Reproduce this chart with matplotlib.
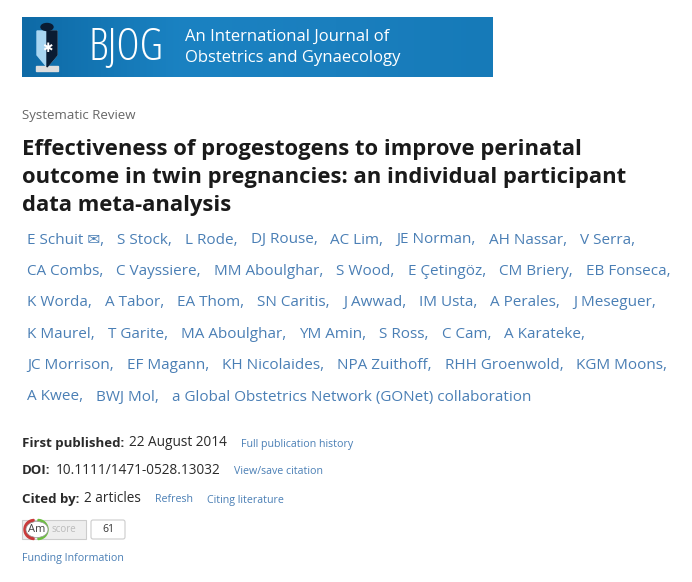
import matplotlib
matplotlib.use("Agg")
import matplotlib.pyplot as plt
import matplotlib.patches as mpatches
import numpy as np

plt.rcParams['font.family'] = ['Open Sans', 'DejaVu Sans']

journal = "BJOG"
journal_sub = ["An International Journal of", "Obstetrics and Gynaecology"]
section = "Systematic Review"
title_lines = ["Effectiveness of progestogens to improve perinatal",
               "outcome in twin pregnancies: an individual participant",
               "data meta-analysis"]
author_rows = [
    ["E Schuit \u2709,", "S Stock,", "L Rode,", "DJ Rouse,", "AC Lim,", "JE Norman,", "AH Nassar,", "V Serra,"],
    ["CA Combs,", "C Vayssiere,", "MM Aboulghar,", "S Wood,", "E \u00c7eting\u00f6z,", "CM Briery,", "EB Fonseca,"],
    ["K Worda,", "A Tabor,", "EA Thom,", "SN Caritis,", "J Awwad,", "IM Usta,", "A Perales,", "J Meseguer,"],
    ["K Maurel,", "T Garite,", "MA Aboulghar,", "YM Amin,", "S Ross,", "C Cam,", "A Karateke,"],
    ["JC Morrison,", "EF Magann,", "KH Nicolaides,", "NPA Zuithoff,", "RHH Groenwold,", "KGM Moons,"],
    ["A Kwee,", "BWJ Mol,", "a Global Obstetrics Network (GONet) collaboration"],
]
meta = [("First published:", "22 August 2014", ["Full publication history"]),
        ("DOI:", "10.1111/1471-0528.13032", ["View/save citation"]),
        ("Cited by:", "2 articles", ["Refresh", "Citing literature"])]
alt_score = "61"

link = "#4a7fb5"
dark = "#2a2a2a"

fig = plt.figure(figsize=(6.92, 5.82), dpi=100)
ax = fig.add_axes([0, 0, 1, 1])
ax.set_xlim(0, 692)
ax.set_ylim(582, 0)
ax.axis('off')
fig.canvas.draw()
r = fig.canvas.get_renderer()

def width(t):
    return t.get_window_extent(r).width

# banner with gradient
grad = np.linspace(0, 1, 256).reshape(1, -1)
cmap = matplotlib.colors.LinearSegmentedColormap.from_list("b", ["#0e6aa6", "#1a82c2", "#1a7fbe", "#167ab8"])
ax.imshow(grad, extent=[22, 493, 77, 17], cmap=cmap, aspect='auto', zorder=0)
ax.add_patch(mpatches.Polygon([[37, 31], [57, 31], [57, 55], [47, 67], [37, 55]], color="#a8d6f2", zorder=2))
ax.add_patch(mpatches.Polygon([[47, 31], [57, 31], [57, 55], [47, 67]], color="#0a1c33", zorder=3))
ax.add_patch(mpatches.Rectangle((36, 66), 22, 5, color="#dddddd", zorder=2))
ax.add_patch(mpatches.Ellipse((47, 27), 12, 7, color="#0a1c33", zorder=3))
ax.text(47, 48, "\u2731", color="white", fontsize=9, ha='center', va='center', zorder=4)
ax.text(89, 48, journal, color="white", fontsize=32, ha='left', va='center',
        fontstretch='condensed', fontweight='medium', zorder=4)
for i, s in enumerate(journal_sub):
    ax.text(185, 37 + i * 21, s, color="white", fontsize=12, va='center', zorder=4)

ax.text(22, 115, section, color="#666666", fontsize=9.5, va='center')
for i, s in enumerate(title_lines):
    ax.text(22, 150 + i * 28, s, color="#1a1a1a", fontsize=15.8, fontweight='bold', va='center')

for i, row in enumerate(author_rows):
    x = 27
    y = 240 + i * 31.4
    for name in row:
        t = ax.text(x, y, name, color=link, fontsize=11, va='center')
        x += width(t) + 13

for i, (lab, val, links) in enumerate(meta):
    y = 443 + i * 28
    t = ax.text(22, y, lab, color=dark, fontsize=9.5, fontweight='bold', va='center')
    x = 22 + width(t) + 5
    t = ax.text(x, y, val, color=dark, fontsize=9.8, va='center')
    x += width(t) + 14
    for l in links:
        t = ax.text(x, y + 1, l, color=link, fontsize=7.7, va='center')
        x += width(t) + 14

# altmetric badge
ax.add_patch(mpatches.Rectangle((22, 520), 64, 19, facecolor="#eeeeee", edgecolor="#cccccc", lw=0.8))
ax.add_patch(mpatches.Wedge((34, 529.5), 10, 90, 270, color="#c93a3a"))
ax.add_patch(mpatches.Wedge((38, 529.5), 10, -90, 90, color="#6cbf3f"))
ax.add_patch(mpatches.Ellipse((37, 529.5), 22, 16, facecolor="white", edgecolor="#999999", lw=0.5))
ax.text(37, 529.5, "Am", fontsize=8, color="#444444", ha='center', va='center')
ax.text(64, 530, "score", fontsize=7, color="#bbbbbb", ha='center', va='center')
ax.add_patch(mpatches.FancyBboxPatch((91, 520), 34, 19, boxstyle="round,pad=0,rounding_size=2",
                                     facecolor="white", edgecolor="#cccccc", lw=0.8))
ax.text(108, 530, alt_score, fontsize=7.5, color="#333333", ha='center', va='center')

ax.text(22, 558, "Funding Information", color=link, fontsize=7.7, va='center')

fig.savefig("out.png", dpi=100)
